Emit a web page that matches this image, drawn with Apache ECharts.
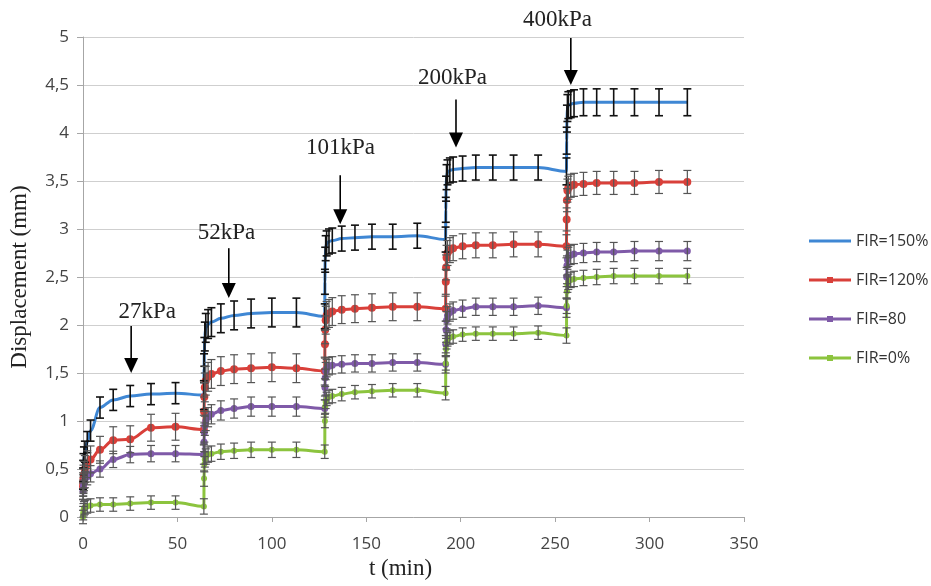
<!DOCTYPE html>
<html>
<head>
<meta charset="utf-8">
<script src="https://cdn.jsdelivr.net/npm/echarts@6/dist/echarts.min.js"></script>
<style>
html, body { margin: 0; padding: 0; background: #fff; }
#chart { width: 931px; height: 586px; }
</style>
</head>
<body>
<div id="chart"></div>
<script>
// reading times (min), 5 load stages of 64 min
var times = [0, 0.1, 0.25, 0.5, 1, 2.25, 4, 9, 16, 25, 36, 49,
    64, 64.1, 64.25, 64.5, 65, 66.25, 68, 73, 80, 89, 100, 113,
    128, 128.1, 128.25, 128.5, 129, 130.25, 132, 137, 144, 153, 164, 177,
    192, 192.1, 192.25, 192.5, 193, 194.25, 196, 201, 208, 217, 228, 241,
    256, 256.1, 256.25, 256.5, 257, 258.25, 260, 265, 272, 281, 292, 305,
    320];

var names = ['FIR=150%', 'FIR=120%', 'FIR=80', 'FIR=0%'];

var fir150 = [0.40, 0.48, 0.55, 0.62, 0.68, 0.78, 0.90, 1.14, 1.22, 1.26, 1.28, 1.29,
    1.27, 1.55, 1.72, 1.88, 1.97, 2.01, 2.03, 2.07, 2.10, 2.12, 2.13, 2.13,
    2.09, 2.45, 2.68, 2.80, 2.85, 2.87, 2.88, 2.90, 2.91, 2.92, 2.92, 2.93,
    2.89, 3.20, 3.42, 3.54, 3.59, 3.61, 3.62, 3.63, 3.64, 3.64, 3.64, 3.64,
    3.60, 3.92, 4.15, 4.26, 4.29, 4.30, 4.31, 4.32, 4.32, 4.32, 4.32, 4.32,
    4.32];
var fir120 = [0.32, 0.36, 0.40, 0.44, 0.50, 0.55, 0.60, 0.70, 0.80, 0.81, 0.93, 0.94,
    0.91, 1.10, 1.25, 1.35, 1.42, 1.46, 1.49, 1.52, 1.54, 1.55, 1.56, 1.55,
    1.52, 1.80, 1.95, 2.05, 2.10, 2.12, 2.14, 2.16, 2.17, 2.18, 2.19, 2.19,
    2.17, 2.45, 2.60, 2.70, 2.75, 2.78, 2.80, 2.82, 2.83, 2.83, 2.84, 2.84,
    2.82, 3.10, 3.30, 3.40, 3.43, 3.45, 3.46, 3.47, 3.48, 3.48, 3.48, 3.49,
    3.49];
var fir80 = [0.27, 0.30, 0.33, 0.36, 0.39, 0.42, 0.45, 0.50, 0.60, 0.65, 0.66, 0.66,
    0.65, 0.78, 0.88, 0.95, 1.00, 1.04, 1.07, 1.11, 1.13, 1.15, 1.15, 1.15,
    1.13, 1.35, 1.45, 1.52, 1.55, 1.57, 1.58, 1.59, 1.60, 1.60, 1.61, 1.61,
    1.59, 1.80, 1.95, 2.05, 2.10, 2.13, 2.15, 2.17, 2.19, 2.19, 2.19, 2.20,
    2.18, 2.50, 2.62, 2.68, 2.71, 2.73, 2.74, 2.75, 2.76, 2.76, 2.77, 2.77,
    2.77];
var fir0 = [0.00, 0.04, 0.07, 0.09, 0.10, 0.11, 0.12, 0.13, 0.13, 0.14, 0.15, 0.15,
    0.11, 0.40, 0.55, 0.60, 0.63, 0.65, 0.66, 0.68, 0.69, 0.70, 0.70, 0.70,
    0.68, 1.00, 1.15, 1.20, 1.23, 1.25, 1.26, 1.28, 1.30, 1.31, 1.32, 1.32,
    1.29, 1.60, 1.75, 1.82, 1.85, 1.87, 1.88, 1.90, 1.91, 1.91, 1.91, 1.92,
    1.89, 2.20, 2.35, 2.42, 2.45, 2.47, 2.48, 2.49, 2.50, 2.51, 2.51, 2.51,
    2.51];

// error bar half-heights per stage
var err150 = [0.11, 0.15, 0.13, 0.13, 0.14];
var err120 = [0.14, 0.15, 0.145, 0.13, 0.12];
var err80 = [0.085, 0.10, 0.09, 0.09, 0.10];
var err0 = [0.07, 0.08, 0.07, 0.07, 0.08];

// load annotations: label, arrow x, arrow top, arrow tip, label x, label y
var loadLabels = ['27kPa', '52kPa', '101kPa', '200kPa', '400kPa'];
var arrowX = [25.5, 77.2, 136.2, 197.5, 258.3];
var arrowTop = [1.99, 2.80, 3.56, 4.35, 4.99];
var arrowTip = [1.50, 2.28, 3.05, 3.85, 4.50];
var labelX = [34.0, 76.0, 136.3, 195.6, 251.2];
var labelY = [2.14, 2.96, 3.84, 4.57, 5.18];

var colors = ['#3f87d4', '#d9403a', '#7f5aa8', '#8cc43e'];
var barColors = ['#111', '#555', '#555', '#555'];

var iconLine = 'path://M0,4L42,4L42,7L0,7Z';
var iconMark = 'path://M0,4L42,4L42,7L0,7Z M18,2.5L24,2.5L24,8.5L18,8.5Z';

function pairs(vals) {
    var out = [];
    for (var i = 0; i < times.length; i++) out.push([times[i], vals[i]]);
    return out;
}

function errData(vals, errs) {
    var out = [];
    for (var i = 0; i < times.length; i++) {
        var st = Math.min(Math.floor(i / 12), 4);
        out.push([times[i], vals[i], errs[st]]);
    }
    return out;
}

function lineSeries(idx, vals, sym, size) {
    return {
        name: names[idx],
        type: 'line',
        data: pairs(vals),
        smooth: 0.35,
        smoothMonotone: 'x',
        symbol: sym,
        symbolSize: size,
        showSymbol: sym !== 'none',
        color: colors[idx],
        lineStyle: { width: 3, color: colors[idx] },
        itemStyle: { color: colors[idx] },
        z: 3
    };
}

function errSeries(vals, errs, color, w) {
    return {
        type: 'custom',
        silent: true,
        z: 4,
        renderItem: function (params, api) {
            var x = api.value(0), y = api.value(1), e = api.value(2);
            var a = api.coord([x, y + e]);
            var b = api.coord([x, y - e]);
            var c = 4;
            var st = { stroke: color, lineWidth: w };
            return {
                type: 'group',
                children: [
                    { type: 'line', shape: { x1: a[0], y1: a[1], x2: b[0], y2: b[1] }, style: st },
                    { type: 'line', shape: { x1: a[0] - c, y1: a[1], x2: a[0] + c, y2: a[1] }, style: st },
                    { type: 'line', shape: { x1: b[0] - c, y1: b[1], x2: b[0] + c, y2: b[1] }, style: st }
                ]
            };
        },
        encode: { x: 0, y: 1 },
        data: errData(vals, errs)
    };
}

var annData = [];
for (var k = 0; k < loadLabels.length; k++) {
    annData.push([arrowX[k], arrowTop[k], arrowTip[k], labelX[k], labelY[k], k]);
}

var annSeries = {
    type: 'custom',
    silent: true,
    clip: false,
    z: 6,
    renderItem: function (params, api) {
        var top = api.coord([api.value(0), api.value(1)]);
        var tip = api.coord([api.value(0), api.value(2)]);
        var lab = api.coord([api.value(3), api.value(4)]);
        var txt = loadLabels[api.value(5)];
        var h = 15, hw = 7;
        return {
            type: 'group',
            children: [
                { type: 'line', shape: { x1: top[0], y1: top[1], x2: tip[0], y2: tip[1] - h + 2 },
                  style: { stroke: '#000', lineWidth: 1.6 } },
                { type: 'polygon', shape: { points: [[tip[0] - hw, tip[1] - h], [tip[0] + hw, tip[1] - h], [tip[0], tip[1]]] },
                  style: { fill: '#000' } },
                { type: 'text', x: lab[0], y: lab[1],
                  style: { text: txt, fill: '#222', font: '23px "Liberation Serif", "DejaVu Serif", serif',
                           align: 'center', verticalAlign: 'middle' } }
            ]
        };
    },
    encode: { x: 0, y: 1 },
    data: annData
};

var option = {
    animation: false,
    backgroundColor: '#fff',
    grid: { left: 83, right: 187, top: 37, bottom: 69 },
    legend: {
        data: [
            { name: names[0], icon: iconLine },
            { name: names[1], icon: iconMark },
            { name: names[2], icon: iconMark },
            { name: names[3], icon: iconMark }
        ],
        orient: 'vertical',
        left: 804,
        top: 228,
        itemWidth: 42,
        itemHeight: 12,
        itemGap: 23,
        textStyle: { fontFamily: 'Open Sans', fontSize: 16, color: '#333' }
    },
    xAxis: {
        type: 'value',
        min: 0,
        max: 350,
        interval: 50,
        name: 't (min)',
        nameLocation: 'middle',
        nameGap: 36,
        nameTextStyle: { fontFamily: 'Liberation Serif', fontSize: 23, color: '#222', padding: [0, 26, 0, 0] },
        axisLine: { show: true, lineStyle: { color: '#a6a6a6', width: 1 } },
        axisTick: { show: true, length: 5, lineStyle: { color: '#a6a6a6' } },
        axisLabel: { fontFamily: 'Open Sans', fontSize: 17, color: '#444', margin: 19 },
        splitLine: { show: false }
    },
    yAxis: {
        type: 'value',
        min: 0,
        max: 5,
        interval: 0.5,
        name: 'Displacement (mm)',
        nameLocation: 'middle',
        nameGap: 52,
        nameTextStyle: { fontFamily: 'Liberation Serif', fontSize: 23, color: '#222' },
        axisLine: { show: true, lineStyle: { color: '#a6a6a6', width: 1 } },
        axisTick: { show: true, length: 6, lineStyle: { color: '#a6a6a6' } },
        axisLabel: {
            fontFamily: 'Open Sans', fontSize: 17, color: '#444', margin: 14,
            formatter: function (v) { return String(v).replace('.', ','); }
        },
        splitLine: { show: true, lineStyle: { color: '#cfcfcf', width: 1 } }
    },
    series: [
        lineSeries(0, fir150, 'none', 0),
        lineSeries(1, fir120, 'circle', 8),
        lineSeries(2, fir80, 'circle', 7),
        lineSeries(3, fir0, 'circle', 6),
        errSeries(fir150, err150, barColors[0], 1.6),
        errSeries(fir120, err120, barColors[1], 1.2),
        errSeries(fir80, err80, barColors[2], 1.2),
        errSeries(fir0, err0, barColors[3], 1.2),
        annSeries
    ]
};

try {
    var chart = echarts.init(document.getElementById('chart'));
    chart.setOption(option);
} catch (e) {
    console.warn(e);
}
</script>
</body>
</html>
